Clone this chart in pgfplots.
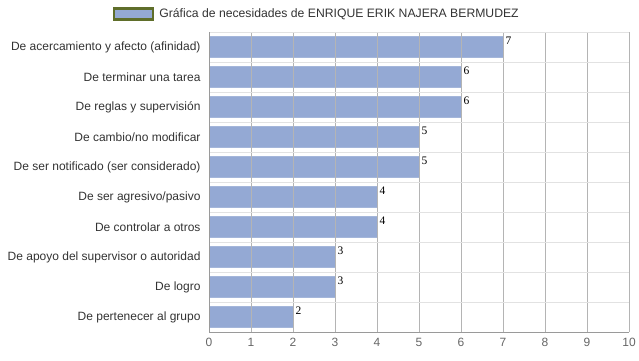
\documentclass[border=0pt]{standalone}
\usepackage{pgfplots}
\pgfplotsset{compat=1.18}
\usepackage{fontspec}
\setmainfont{Liberation Sans}
\newfontfamily\seriffont{Liberation Serif}
\definecolor{barblue}{HTML}{94A9D4}
\definecolor{legolive}{HTML}{5F6E2A}
\definecolor{gridgray}{HTML}{B4B4B4}
\definecolor{lightgrid}{HTML}{E2E2E2}
\definecolor{axisgray}{HTML}{9A9A9A}
\definecolor{ticktext}{HTML}{666666}
\definecolor{labtext}{HTML}{333333}
\begin{document}
\begin{tikzpicture}[x=1pt,y=1pt]
\path[use as bounding box] (0,0) rectangle (639,360);
\begin{axis}[
  at={(209pt,28pt)}, anchor=south west,
  scale only axis, width=420pt, height=300pt,
  /pgf/number format/assume math mode=true,
  xbar, bar width=21pt,
  xmin=0, xmax=10, ymin=-0.5, ymax=9.5,
  y dir=reverse,
  xtick={0,...,10},
  ytick={0,...,9},
  yticklabels={De acercamiento y afecto (afinidad),De terminar una tarea,De reglas y supervisión,De cambio/no modificar,De ser notificado (ser considerado),De ser agresivo/pasivo,De controlar a otros,De apoyo del supervisor o autoridad,De logro,De pertenecer al grupo},
  minor ytick={-0.5,0.5,...,9.5},
  xmajorgrids, yminorgrids,
  major grid style={gridgray, line width=0.8pt},
  minor grid style={lightgrid, line width=0.8pt},
  axis lines=left,
  axis line style={axisgray, line width=0.8pt, -},
  major tick length=0pt, minor tick length=0pt,
  x tick label style={font=\fontsize{12}{14}\selectfont, text=ticktext, yshift=-3pt},
  y tick label style={font=\fontsize{12}{14}\selectfont, text=labtext, xshift=-5pt},
  axis on top,
  nodes near coords,
  nodes near coords style={font=\seriffont\fontsize{11.5}{12}\selectfont, text=black, anchor=west, inner sep=1pt, xshift=1.5pt, yshift=6pt},
  legend style={at={(rel axis cs:-0.2286,1.06)}, anchor=west, draw=none, fill=none, inner sep=0pt, font=\fontsize{12.2}{14}\selectfont, text=labtext,
    legend cell align=left},
  legend image code/.code={\draw[fill=barblue, draw=legolive, line width=2.2pt] (0pt,-5.5pt) rectangle (39pt,5.5pt);},
  legend style={/tikz/every even column/.append style={column sep=0pt}},
]
\addplot[fill=barblue, draw=barblue!85!white] coordinates {
  (7,0) (6,1) (6,2) (5,3) (5,4) (4,5) (4,6) (3,7) (3,8) (2,9)
};
\addlegendentry{\hspace{3pt}Gráfica de necesidades de ENRIQUE ERIK NAJERA BERMUDEZ}
\end{axis}
\end{tikzpicture}
\end{document}
